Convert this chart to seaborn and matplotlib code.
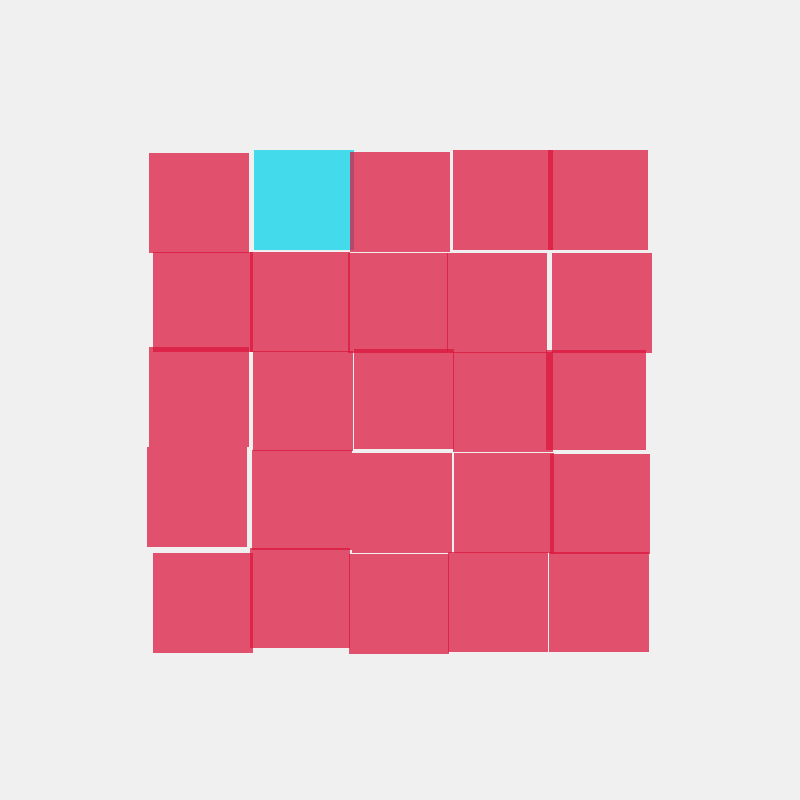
import matplotlib
matplotlib.use("Agg")
import matplotlib.pyplot as plt
import seaborn as sns

# Stile: sfondo grigio chiaro, nessun asse
sns.set_theme(style="white")
plt.rcParams['font.family'] = ['DejaVu Sans']

# Griglia 5x5 di quadrati, ognuno leggermente spostato (bordo sinistro / bordo alto in px)
rows = [0, 0, 0, 0, 0,
        1, 1, 1, 1, 1,
        2, 2, 2, 2, 2,
        3, 3, 3, 3, 3,
        4, 4, 4, 4, 4]
cols = [0, 1, 2, 3, 4] * 5
left_edge = [149, 254, 350, 453, 548,
             153, 250, 348, 447, 552,
             149, 252.5, 353.5, 453, 546,
             147, 252, 352, 453.5, 550,
             153, 250, 349, 448, 549]
top_edge = [153, 150, 152, 150, 150,
            252, 252, 253, 253, 253,
            347, 351, 349, 351.5, 350,
            447, 450, 452.5, 452.5, 454,
            553, 548, 553.5, 552, 552]
# Il quadrato evidenziato (riga 0, colonna 1)
highlight = [(r == 0 and c == 1) for r, c in zip(rows, cols)]

pink = "#dc143c"
cyan = "#00d4ea"
colors = [cyan if h else pink for h in highlight]

fig = plt.figure(figsize=(8, 8), dpi=100, facecolor="#f0f0f0")
ax = fig.add_axes([0, 0, 1, 1])
ax.set_facecolor("#f0f0f0")

ax.bar(left_edge, height=100, width=100, bottom=top_edge, align="edge",
       color=colors, alpha=0.72, linewidth=0)

ax.set_xlim(0, 800)
ax.set_ylim(800, 0)
ax.axis("off")

fig.savefig("out.png", dpi=100, facecolor=fig.get_facecolor())
